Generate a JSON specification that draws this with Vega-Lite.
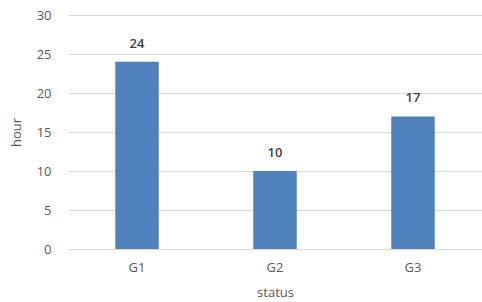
{
  "$schema": "https://vega.github.io/schema/vega-lite/v6.json",
  "autosize": "none",
  "width": 414,
  "height": 234,
  "padding": {"left": 68, "top": 15, "right": 0, "bottom": 53},
  "background": "white",
  "config": {
    "view": {"stroke": null},
    "font": "Open Sans"
  },
  "data": {
    "values": [
      {"status": "G1", "hour": 24},
      {"status": "G2", "hour": 10},
      {"status": "G3", "hour": 17}
    ]
  },
  "encoding": {
    "x": {
      "field": "status",
      "type": "nominal",
      "sort": null,
      "scale": {"paddingInner": 0.685, "paddingOuter": 0.3425},
      "axis": {
        "labelAngle": 0,
        "labelFontSize": 13,
        "labelColor": "#595959",
        "labelPadding": 12,
        "ticks": false,
        "domainColor": "#d9d9d9",
        "title": "status",
        "titleFontSize": 13,
        "titleFontWeight": "normal",
        "titleColor": "#595959",
        "titlePadding": 12
      }
    },
    "y": {
      "field": "hour",
      "type": "quantitative",
      "scale": {"domain": [0, 30]},
      "axis": {
        "values": [0, 5, 10, 15, 20, 25, 30],
        "labelFontSize": 13,
        "labelColor": "#595959",
        "labelPadding": 17,
        "ticks": false,
        "domain": false,
        "gridColor": "#d9d9d9",
        "title": "hour",
        "titleFontSize": 13,
        "titleFontWeight": "normal",
        "titleColor": "#595959",
        "titlePadding": 13
      }
    }
  },
  "layer": [
    {"mark": {"type": "bar", "color": "#4f81bd"}},
    {
      "mark": {"type": "text", "dy": -11, "baseline": "bottom", "fontSize": 13, "fontWeight": 600, "color": "#404040"},
      "encoding": {"text": {"field": "hour", "type": "quantitative"}}
    }
  ]
}
